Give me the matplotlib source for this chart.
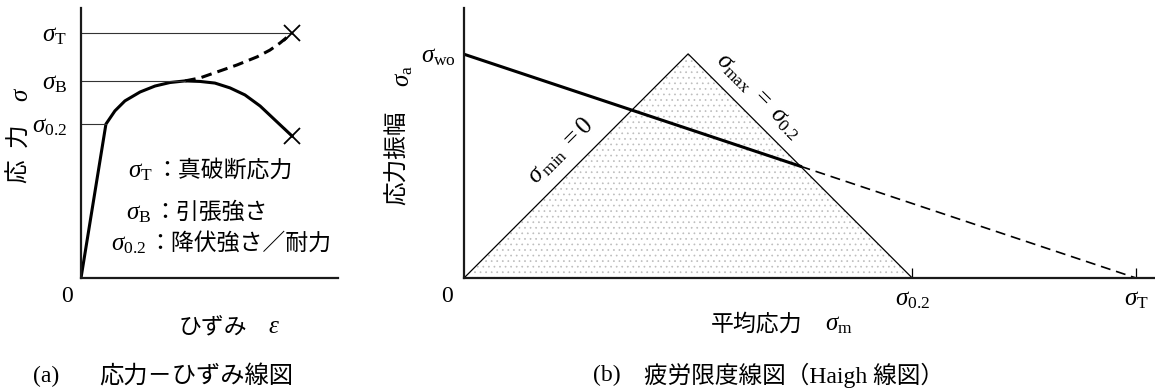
import matplotlib
matplotlib.use("Agg")
import matplotlib.pyplot as plt
from matplotlib.patches import Polygon

plt.rcParams['font.family'] = ['Liberation Serif', 'Noto Sans CJK JP']
plt.rcParams['mathtext.fontset'] = 'custom'
plt.rcParams['mathtext.rm'] = 'Liberation Serif'
plt.rcParams['mathtext.it'] = 'Liberation Serif:italic'
plt.rcParams['hatch.linewidth'] = 0.5

# ---------------- (a) 応力－ひずみ線図 ----------------
sig_T = 0.907      # 真破断応力
sig_B = 0.730      # 引張強さ
sig_02 = 0.570     # 降伏強さ／耐力

# 公称応力曲線 (ひずみ, 応力)
nom_eps = [0.0, 0.097, 0.132, 0.171, 0.230, 0.288, 0.346, 0.405, 0.463,
           0.521, 0.580, 0.638, 0.697, 0.755, 0.821]
nom_sig = [0.0, 0.570, 0.619, 0.656, 0.689, 0.711, 0.724, 0.730, 0.728,
           0.722, 0.704, 0.678, 0.637, 0.585, 0.526]

# 真応力曲線 (破線)
true_eps = [0.405, 0.463, 0.529, 0.607, 0.685, 0.735, 0.774, 0.821]
true_sig = [0.730, 0.741, 0.763, 0.789, 0.819, 0.844, 0.870, 0.907]

# ---------------- (b) 疲労限度線図 ----------------
sig_wo = 0.333     # 両振り疲労限度
sig_02b = 0.667    # 耐力
sig_Tb = 1.0       # 真破断応力

W, H = 1155, 392
fig = plt.figure(figsize=(W / 100, H / 100), dpi=100)

FS_SIG = 18   # σ 記号
FS_JP = 16.5  # 日本語


def fx(px):
    return px / W


def fy(py):
    return 1 - py / H


def axes_px(x0, y0, x1, y1):
    return fig.add_axes([fx(x0), fy(y1), fx(x1) - fx(x0), fy(y0) - fy(y1)])


def style(ax):
    for s in ['top', 'right']:
        ax.spines[s].set_visible(False)
    for s in ['left', 'bottom']:
        ax.spines[s].set_linewidth(1.6)
        ax.spines[s].set_color('#1a1a1a')


# ----- (a) -----
axa = axes_px(81, 8, 338, 278)
style(axa)
axa.set_xlim(0, 1)
axa.set_ylim(0, 1)

axa.plot(nom_eps, nom_sig, color='black', lw=2.2, solid_joinstyle='round')
axa.plot(true_eps, true_sig, color='black', lw=2.2, ls=(0, (3.5, 2)))
axa.plot([0, true_eps[-1]], [sig_T, sig_T], color='#333333', lw=0.8)
axa.plot([0, nom_eps[7]], [sig_B, sig_B], color='#333333', lw=0.8)
axa.plot([0, nom_eps[1]], [sig_02, sig_02], color='#333333', lw=0.8)
axa.plot([true_eps[-1], nom_eps[-1]], [true_sig[-1], nom_sig[-1]], ls='none',
         marker='x', ms=11, mew=1.3, color='black', clip_on=False)

axa.set_xticks([])
axa.set_yticks([sig_T, sig_B, sig_02])
axa.set_yticklabels([r'$\sigma_{\mathrm{T}}$', r'$\sigma_{\mathrm{B}}$',
                     r'$\sigma_{0.2}$'], fontsize=FS_SIG)
axa.tick_params(axis='y', length=0, pad=10)

fig.text(fx(67), fy(297), '0', fontsize=17, ha='center', va='center')
fig.text(fx(213), fy(328), 'ひずみ', fontsize=FS_JP, ha='center', va='center')
fig.text(fx(274), fy(327), r'$\varepsilon$', fontsize=FS_SIG, ha='center', va='center')
fig.text(fx(19), fy(171), '応', fontsize=17, ha='center', va='center', rotation=90)
fig.text(fx(19), fy(135), '力', fontsize=17, ha='center', va='center', rotation=90)
fig.text(fx(22), fy(94), r'$\sigma$', fontsize=FS_SIG, ha='center', va='center', rotation=90)

legend_sym = [r'$\sigma_{\mathrm{T}}$', r'$\sigma_{\mathrm{B}}$', r'$\sigma_{0.2}$']
legend_txt = ['：真破断応力', '：引張強さ', '：降伏強さ／耐力']
legend_y = [172, 214, 245]
legend_x = [154, 152, 147]
for sym, txt, yy, xx in zip(legend_sym, legend_txt, legend_y, legend_x):
    fig.text(fx(xx - 1), fy(yy), sym, fontsize=FS_SIG, ha='right', va='center')
    fig.text(fx(xx + 1), fy(yy - 1), txt, fontsize=FS_JP, ha='left', va='center')

fig.text(fx(33), fy(376), '(a)', fontsize=17, ha='left', va='center')
fig.text(fx(99), fy(376), '応力－ひずみ線図', fontsize=17.5, ha='left', va='center')

# ----- (b) -----
axb = axes_px(464, 8, 1155, 278)
style(axb)
axb.set_xlim(0, 691 / 672)
axb.set_ylim(0, 270 / 672)

tri = [(0, 0), (sig_02b / 2, sig_02b / 2), (sig_02b, 0)]
axb.add_patch(Polygon(tri, closed=True, facecolor='none', edgecolor='#bdbdbd',
                      lw=0, hatch='...'))
axb.plot([p[0] for p in tri], [p[1] for p in tri], color='black', lw=0.9)

# 修正グッドマン線と σmax = σ0.2 の交点
x_i = (sig_02b - sig_wo) / (1 - sig_wo / sig_Tb)
y_i = sig_wo * (1 - x_i / sig_Tb)
axb.plot([0, x_i], [sig_wo, y_i], color='black', lw=2.2)
axb.plot([x_i, sig_Tb], [y_i, 0], color='black', lw=1.2, ls=(0, (6, 3.5)))

axb.set_xticks([sig_02b, sig_Tb])
axb.set_xticklabels([r'$\sigma_{0.2}$', r'$\sigma_{\mathrm{T}}$'], fontsize=FS_SIG)
axb.tick_params(axis='x', direction='in', length=7, width=0.9, pad=8)
axb.set_yticks([sig_wo])
axb.set_yticklabels([r'$\sigma_{\mathrm{wo}}$'], fontsize=FS_SIG)
axb.tick_params(axis='y', length=0, pad=6)

fig.text(fx(447), fy(297), '0', fontsize=17, ha='center', va='center')
fig.text(fx(757), fy(325), '平均応力', fontsize=FS_JP, ha='center', va='center')
fig.text(fx(839), fy(325), r'$\sigma_{\mathrm{m}}$', fontsize=FS_SIG, ha='center', va='center')
fig.text(fx(398), fy(158), '応力振幅', fontsize=17, ha='center', va='center', rotation=90)
fig.text(fx(404), fy(76), r'$\sigma_{\mathrm{a}}$', fontsize=FS_SIG, ha='center', va='center',
         rotation=90)

fig.text(fx(561), fy(151), r'$\sigma_{\,\mathrm{min}}\ = 0$', fontsize=FS_SIG,
         ha='center', va='center', rotation=45, rotation_mode='anchor')
fig.text(fx(758), fy(97), r'$\sigma_{\mathrm{max}}\ =\ \sigma_{0.2}$', fontsize=FS_SIG,
         ha='center', va='center', rotation=-45, rotation_mode='anchor')

fig.text(fx(593), fy(375), '(b)', fontsize=17, ha='left', va='center')
fig.text(fx(644), fy(375), '疲労限度線図（Haigh 線図）', fontsize=17,
         ha='left', va='center')

fig.savefig('out.png', dpi=100)
